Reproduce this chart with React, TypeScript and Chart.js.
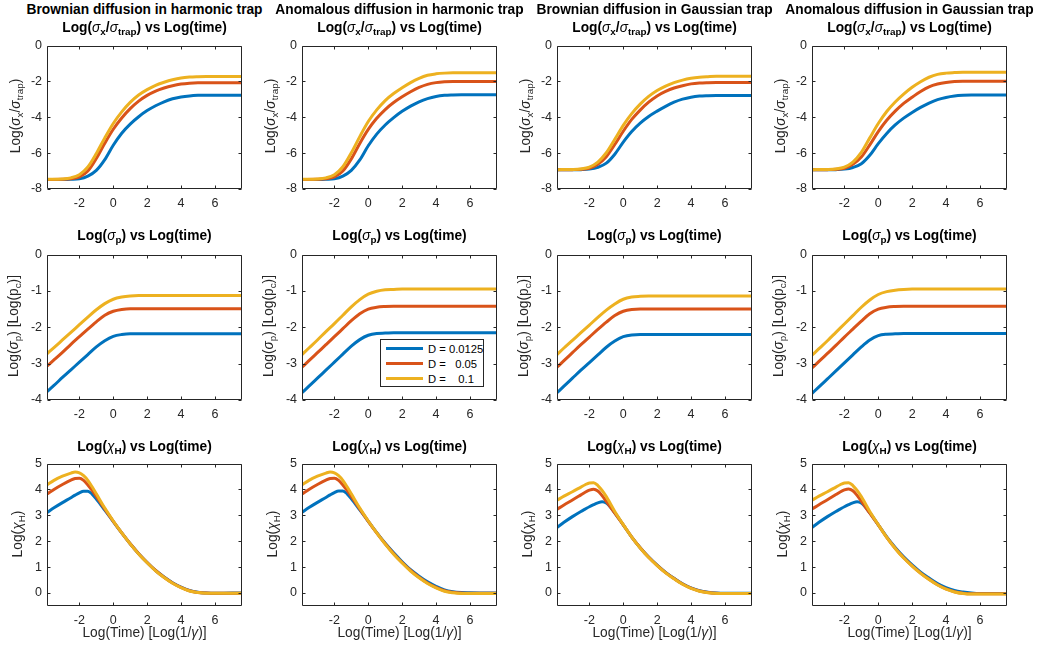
import React, { useEffect, useRef } from 'react';
import { Chart, registerables } from 'chart.js';

Chart.register(...registerables);

// ---------------- DATA ----------------
const SERIES_LABELS = ['D = 0.0125', 'D =   0.05', 'D =    0.1'];
const COLORS = ['#0072BD', '#D95319', '#EDB120'];
const COLUMN_TITLES = [
  'Brownian diffusion in harmonic trap',
  'Anomalous diffusion in harmonic trap',
  'Brownian diffusion in Gaussian trap',
  'Anomalous diffusion in Gaussian trap',
];
const X_MIN = -3.912;
const X_MAX = 7.601;

// Row 1: Log(sigma_x / sigma_trap)
const X1 = [-3.912, -3, -2.5, -2, -1.5, -1, -0.5, 0, 0.5, 1, 1.5, 2, 2.5, 3, 3.5, 4, 4.5, 5, 5.5, 6, 7, 7.601];
const SX_BH_B = [-7.47, -7.47, -7.46, -7.43, -7.28, -6.96, -6.36, -5.56, -4.89, -4.38, -3.97, -3.63, -3.36, -3.14, -2.97, -2.87, -2.81, -2.78, -2.77, -2.77, -2.77, -2.77];
const SX_BH_O = [-7.47, -7.46, -7.43, -7.33, -7.0, -6.3, -5.45, -4.67, -4.04, -3.52, -3.1, -2.78, -2.54, -2.37, -2.24, -2.15, -2.1, -2.08, -2.08, -2.08, -2.08, -2.08];
const SX_BH_Y = [-7.46, -7.44, -7.38, -7.2, -6.77, -6.02, -5.15, -4.35, -3.7, -3.17, -2.76, -2.46, -2.22, -2.05, -1.91, -1.81, -1.76, -1.74, -1.73, -1.73, -1.73, -1.73];
const SX_AH_B = [-7.47, -7.47, -7.46, -7.43, -7.28, -6.96, -6.38, -5.59, -4.94, -4.43, -4.02, -3.67, -3.38, -3.14, -2.96, -2.84, -2.78, -2.76, -2.75, -2.75, -2.75, -2.75];
const SX_AH_O = [-7.47, -7.46, -7.43, -7.33, -7.0, -6.32, -5.46, -4.68, -4.06, -3.57, -3.18, -2.86, -2.58, -2.34, -2.17, -2.07, -2.02, -2.0, -2.0, -2.0, -2.0, -2.0];
const SX_AH_Y = [-7.46, -7.44, -7.38, -7.2, -6.76, -5.98, -5.08, -4.24, -3.59, -3.07, -2.68, -2.36, -2.07, -1.83, -1.66, -1.58, -1.54, -1.52, -1.52, -1.52, -1.52, -1.52];
const SX_BG_B = [-6.93, -6.93, -6.92, -6.89, -6.79, -6.56, -6.06, -5.39, -4.8, -4.33, -3.96, -3.66, -3.39, -3.16, -2.99, -2.88, -2.82, -2.8, -2.79, -2.79, -2.79, -2.79];
const SX_BG_O = [-6.93, -6.92, -6.9, -6.84, -6.62, -6.2, -5.52, -4.78, -4.12, -3.6, -3.16, -2.81, -2.56, -2.37, -2.24, -2.14, -2.09, -2.07, -2.06, -2.06, -2.06, -2.06];
const SX_BG_Y = [-6.92, -6.91, -6.88, -6.78, -6.5, -5.98, -5.23, -4.45, -3.8, -3.27, -2.84, -2.51, -2.26, -2.07, -1.93, -1.83, -1.77, -1.74, -1.72, -1.72, -1.72, -1.72];
const SX_AG_B = [-6.93, -6.93, -6.92, -6.89, -6.8, -6.59, -6.12, -5.47, -4.9, -4.43, -4.05, -3.73, -3.45, -3.21, -3.02, -2.9, -2.82, -2.78, -2.76, -2.76, -2.76, -2.76];
const SX_AG_O = [-6.93, -6.92, -6.9, -6.84, -6.62, -6.22, -5.54, -4.8, -4.17, -3.66, -3.23, -2.88, -2.56, -2.3, -2.15, -2.06, -2.01, -1.99, -1.99, -1.99, -1.99, -1.99];
const SX_AG_Y = [-6.92, -6.91, -6.88, -6.78, -6.5, -5.96, -5.15, -4.35, -3.68, -3.15, -2.71, -2.33, -2.02, -1.77, -1.61, -1.54, -1.51, -1.49, -1.49, -1.49, -1.49, -1.49];

// Row 2: Log(sigma_p)
const X2 = [-3.912, -3.5, -3, -2.5, -2, -1.5, -1, -0.5, 0, 0.5, 1, 1.5, 2, 3, 4, 5, 6, 7, 7.601];
const SP_BH_B = [-3.77, -3.6, -3.38, -3.17, -2.96, -2.75, -2.54, -2.37, -2.25, -2.2, -2.18, -2.18, -2.18, -2.18, -2.18, -2.18, -2.18, -2.18, -2.18];
const SP_BH_O = [-3.07, -2.9, -2.69, -2.47, -2.26, -2.05, -1.85, -1.67, -1.56, -1.51, -1.49, -1.49, -1.49, -1.49, -1.49, -1.49, -1.49, -1.49, -1.49];
const SP_BH_Y = [-2.73, -2.56, -2.35, -2.14, -1.93, -1.72, -1.52, -1.35, -1.23, -1.17, -1.14, -1.13, -1.13, -1.13, -1.13, -1.13, -1.13, -1.13, -1.13];
const SP_AH_B = [-3.8, -3.62, -3.4, -3.18, -2.96, -2.74, -2.52, -2.34, -2.22, -2.17, -2.16, -2.15, -2.15, -2.15, -2.15, -2.15, -2.15, -2.15, -2.15];
const SP_AH_O = [-3.1, -2.92, -2.7, -2.48, -2.26, -2.04, -1.82, -1.63, -1.5, -1.45, -1.43, -1.42, -1.42, -1.42, -1.42, -1.42, -1.42, -1.42, -1.42];
const SP_AH_Y = [-2.75, -2.57, -2.35, -2.12, -1.9, -1.67, -1.44, -1.24, -1.09, -1.01, -0.97, -0.96, -0.95, -0.95, -0.95, -0.95, -0.95, -0.95, -0.95];
const SP_BG_B = [-3.8, -3.62, -3.4, -3.18, -2.97, -2.76, -2.55, -2.38, -2.26, -2.21, -2.2, -2.2, -2.2, -2.2, -2.2, -2.2, -2.2, -2.2, -2.2];
const SP_BG_O = [-3.1, -2.92, -2.7, -2.48, -2.27, -2.06, -1.86, -1.68, -1.56, -1.51, -1.5, -1.5, -1.5, -1.5, -1.5, -1.5, -1.5, -1.5, -1.5];
const SP_BG_Y = [-2.75, -2.57, -2.36, -2.15, -1.94, -1.73, -1.53, -1.36, -1.23, -1.17, -1.15, -1.14, -1.14, -1.14, -1.14, -1.14, -1.14, -1.14, -1.14];
const SP_AG_B = [-3.82, -3.64, -3.42, -3.2, -2.98, -2.76, -2.54, -2.35, -2.23, -2.19, -2.18, -2.17, -2.17, -2.17, -2.17, -2.17, -2.17, -2.17, -2.17];
const SP_AG_O = [-3.12, -2.94, -2.72, -2.5, -2.27, -2.05, -1.83, -1.63, -1.5, -1.45, -1.43, -1.42, -1.42, -1.42, -1.42, -1.42, -1.42, -1.42, -1.42];
const SP_AG_Y = [-2.77, -2.59, -2.37, -2.14, -1.91, -1.68, -1.45, -1.25, -1.1, -1.02, -0.98, -0.96, -0.95, -0.95, -0.95, -0.95, -0.95, -0.95, -0.95];

// Row 3: Log(chi_H)
const X3 = [-3.912, -3.5, -3, -2.5, -2.25, -2, -1.75, -1.5, -1.25, -1, -0.5, 0, 0.5, 1, 1.5, 2, 2.5, 3, 3.5, 4, 4.5, 5, 5.5, 6, 7, 7.601];
const CH_BH_B = [3.11, 3.29, 3.49, 3.68, 3.78, 3.87, 3.93, 3.93, 3.82, 3.63, 3.2, 2.76, 2.32, 1.9, 1.52, 1.18, 0.87, 0.62, 0.4, 0.23, 0.1, 0.03, 0.0, -0.01, 0.0, 0.0];
const CH_BH_O = [3.82, 4.0, 4.19, 4.36, 4.42, 4.43, 4.35, 4.17, 3.96, 3.73, 3.24, 2.77, 2.32, 1.9, 1.52, 1.18, 0.87, 0.61, 0.39, 0.22, 0.09, 0.02, 0.0, -0.01, -0.01, -0.01];
const CH_BH_Y = [4.18, 4.35, 4.51, 4.63, 4.67, 4.64, 4.53, 4.35, 4.1, 3.83, 3.28, 2.78, 2.32, 1.9, 1.51, 1.17, 0.86, 0.6, 0.38, 0.21, 0.08, 0.02, -0.01, -0.01, -0.01, -0.01];
const CH_AH_B = [3.12, 3.3, 3.5, 3.69, 3.79, 3.88, 3.94, 3.94, 3.83, 3.64, 3.21, 2.77, 2.33, 1.92, 1.55, 1.21, 0.9, 0.65, 0.43, 0.26, 0.12, 0.05, 0.02, 0.01, 0.0, 0.0];
const CH_AH_O = [3.82, 4.0, 4.19, 4.36, 4.42, 4.43, 4.35, 4.17, 3.96, 3.73, 3.24, 2.77, 2.32, 1.9, 1.52, 1.18, 0.87, 0.61, 0.39, 0.22, 0.09, 0.03, 0.0, -0.01, -0.01, -0.01];
const CH_AH_Y = [4.18, 4.35, 4.51, 4.63, 4.67, 4.64, 4.53, 4.35, 4.1, 3.83, 3.28, 2.78, 2.32, 1.89, 1.5, 1.16, 0.85, 0.59, 0.37, 0.2, 0.07, 0.01, -0.02, -0.02, -0.02, -0.02];
const CH_BG_B = [2.53, 2.73, 2.95, 3.15, 3.24, 3.33, 3.41, 3.48, 3.52, 3.47, 3.1, 2.63, 2.16, 1.75, 1.39, 1.08, 0.8, 0.57, 0.36, 0.2, 0.09, 0.03, 0.0, -0.01, -0.01, -0.01];
const CH_BG_O = [3.23, 3.4, 3.59, 3.79, 3.89, 3.97, 4.01, 3.94, 3.76, 3.54, 3.08, 2.63, 2.16, 1.75, 1.38, 1.07, 0.79, 0.56, 0.35, 0.19, 0.08, 0.02, -0.01, -0.02, -0.02, -0.02];
const CH_BG_Y = [3.58, 3.74, 3.91, 4.09, 4.18, 4.25, 4.26, 4.15, 3.96, 3.72, 3.15, 2.64, 2.16, 1.74, 1.37, 1.06, 0.78, 0.55, 0.34, 0.18, 0.07, 0.01, -0.02, -0.02, -0.02, -0.02];
const CH_AG_B = [2.53, 2.73, 2.95, 3.15, 3.24, 3.33, 3.41, 3.48, 3.52, 3.47, 3.1, 2.63, 2.17, 1.76, 1.4, 1.09, 0.81, 0.58, 0.37, 0.21, 0.1, 0.04, 0.0, -0.02, -0.02, -0.02];
const CH_AG_O = [3.24, 3.41, 3.6, 3.8, 3.9, 3.98, 4.02, 3.95, 3.77, 3.55, 3.08, 2.63, 2.15, 1.73, 1.36, 1.05, 0.77, 0.53, 0.32, 0.16, 0.05, -0.01, -0.03, -0.03, -0.03, -0.03];
const CH_AG_Y = [3.58, 3.74, 3.91, 4.09, 4.18, 4.25, 4.26, 4.15, 3.96, 3.72, 3.15, 2.64, 2.15, 1.72, 1.35, 1.04, 0.76, 0.52, 0.31, 0.15, 0.04, -0.02, -0.04, -0.04, -0.04, -0.04];

// ---------------- LAYOUT ----------------
const COL_LEFT = [47, 302, 557, 812];
const PLOT_W = 195;
const ROW_TOP = [43, 252, 461];
const ROW_H = [146, 148, 145];

const FONT = '"Liberation Sans", Arial, Helvetica, sans-serif';
const AXIS_COLOR = '#262626';

type PanelSpec = {
  xs: number[];
  ys: number[][];
  yMin: number;
  yMax: number;
  yStep: number;
  left: number;
  top: number;
  width: number;
  height: number;
};

const boxPlugin = {
  id: 'matlabBox',
  afterDatasetsDraw(chart: any) {
    const { ctx, chartArea: a, scales } = chart;
    ctx.save();
    ctx.strokeStyle = AXIS_COLOR;
    ctx.lineWidth = 1;
    const l = Math.round(a.left) + 0.5;
    const r = Math.round(a.right) - 0.5;
    const t = Math.round(a.top) + 0.5;
    const b = Math.round(a.bottom) - 0.5;
    ctx.beginPath();
    ctx.rect(l, t, r - l, b - t);
    const len = 3;
    scales.x.ticks.forEach((tk: any) => {
      const px = Math.round(scales.x.getPixelForValue(tk.value)) + 0.5;
      ctx.moveTo(px, b);
      ctx.lineTo(px, b - len);
      ctx.moveTo(px, t);
      ctx.lineTo(px, t + len);
    });
    scales.y.ticks.forEach((tk: any) => {
      const py = Math.round(scales.y.getPixelForValue(tk.value)) + 0.5;
      ctx.moveTo(l, py);
      ctx.lineTo(l + len, py);
      ctx.moveTo(r, py);
      ctx.lineTo(r - len, py);
    });
    ctx.stroke();
    ctx.restore();
  },
};

const PAD_L = 45;
const PAD_R = 10;
const PAD_T = 10;
const PAD_B = 32;

function Panel({ spec }: { spec: PanelSpec }) {
  const ref = useRef<HTMLCanvasElement>(null);
  useEffect(() => {
    const tickFont = { family: FONT, size: 12.5 };
    const chart = new Chart(ref.current as HTMLCanvasElement, {
      type: 'line',
      data: {
        datasets: spec.ys.map((ys, i) => ({
          label: SERIES_LABELS[i],
          data: spec.xs.map((x, j) => ({ x, y: ys[j] })),
          borderColor: COLORS[i],
          backgroundColor: COLORS[i],
          borderWidth: 3,
          pointRadius: 0,
          cubicInterpolationMode: 'monotone',
          fill: false,
          clip: 0,
          order: 3 - i,
        })),
      } as any,
      options: {
        animation: false,
        responsive: false,
        devicePixelRatio: 1,
        events: [],
        layout: { padding: { left: 5, right: PAD_R, top: PAD_T, bottom: 5 } },
        plugins: { legend: { display: false }, tooltip: { enabled: false }, title: { display: false } },
        scales: {
          x: {
            type: 'linear',
            min: X_MIN,
            max: X_MAX,
            afterFit: (s: any) => {
              s.height = PAD_B - 5;
            },
            grid: { display: false, drawTicks: false },
            border: { display: false },
            ticks: {
              stepSize: 2,
              includeBounds: false,
              autoSkip: false,
              maxRotation: 0,
              padding: 7,
              color: AXIS_COLOR,
              font: tickFont,
            },
          },
          y: {
            type: 'linear',
            min: spec.yMin,
            max: spec.yMax,
            afterFit: (s: any) => {
              s.width = 40;
            },
            grid: { display: false, drawTicks: false },
            border: { display: false },
            ticks: {
              stepSize: spec.yStep,
              includeBounds: false,
              autoSkip: false,
              padding: 5,
              color: AXIS_COLOR,
              font: tickFont,
            },
          },
        },
      } as any,
      plugins: [boxPlugin],
    });
    return () => chart.destroy();
  }, []);
  const cw = spec.width + PAD_L + PAD_R;
  const ch = spec.height + PAD_T + PAD_B;
  return (
    <canvas
      ref={ref}
      width={cw}
      height={ch}
      style={{ position: 'absolute', left: spec.left - PAD_L, top: spec.top - PAD_T, width: cw, height: ch }}
    />
  );
}

// ---------------- TEXT HELPERS ----------------
const Sub = ({ children }: { children: React.ReactNode }) => (
  <span style={{ fontSize: '0.72em', position: 'relative', top: '0.33em' }}>{children}</span>
);
const G = ({ children }: { children: React.ReactNode }) => (
  <span style={{ fontStyle: 'italic', fontWeight: 'normal' }}>{children}</span>
);

function HText({ cx, baseline, size, bold, color, children }: any) {
  return (
    <div
      style={{
        position: 'absolute',
        left: cx,
        top: baseline - 0.9215 * size,
        transform: 'translateX(-50%)',
        whiteSpace: 'pre',
        fontFamily: FONT,
        fontSize: size,
        lineHeight: 1.15,
        fontWeight: bold ? 'bold' : 'normal',
        color: color || '#000',
      }}
    >
      {children}
    </div>
  );
}

function VText({ baselineX, cy, size, color, children }: any) {
  const cx = baselineX - 0.3465 * size;
  return (
    <div
      style={{
        position: 'absolute',
        left: cx,
        top: cy,
        transform: 'translate(-50%, -50%) rotate(-90deg)',
        whiteSpace: 'pre',
        fontFamily: FONT,
        fontSize: size,
        lineHeight: 1.15,
        color: color || AXIS_COLOR,
      }}
    >
      {children}
    </div>
  );
}

const SX_DATA = [
  [SX_BH_B, SX_BH_O, SX_BH_Y],
  [SX_AH_B, SX_AH_O, SX_AH_Y],
  [SX_BG_B, SX_BG_O, SX_BG_Y],
  [SX_AG_B, SX_AG_O, SX_AG_Y],
];
const SP_DATA = [
  [SP_BH_B, SP_BH_O, SP_BH_Y],
  [SP_AH_B, SP_AH_O, SP_AH_Y],
  [SP_BG_B, SP_BG_O, SP_BG_Y],
  [SP_AG_B, SP_AG_O, SP_AG_Y],
];
const CH_DATA = [
  [CH_BH_B, CH_BH_O, CH_BH_Y],
  [CH_AH_B, CH_AH_O, CH_AH_Y],
  [CH_BG_B, CH_BG_O, CH_BG_Y],
  [CH_AG_B, CH_AG_O, CH_AG_Y],
];

export default function App() {
  const TITLE = 13.75;
  const LABEL = 13.75;
  const panels: PanelSpec[] = [];
  COL_LEFT.forEach((L, c) => {
    panels.push({ xs: X1, ys: SX_DATA[c], yMin: -8, yMax: 0, yStep: 2, left: L, top: ROW_TOP[0], width: PLOT_W, height: ROW_H[0] });
    panels.push({ xs: X2, ys: SP_DATA[c], yMin: -4, yMax: 0, yStep: 1, left: L, top: ROW_TOP[1], width: PLOT_W, height: ROW_H[1] });
    panels.push({ xs: X3, ys: CH_DATA[c], yMin: -0.5, yMax: 5, yStep: 1, left: L, top: ROW_TOP[2], width: PLOT_W, height: ROW_H[2] });
  });

  const legendLeft = 380;
  const legendTop = 339;
  const legendRows = [348.5, 363.5, 378.5];

  return (
    <div style={{ position: 'absolute', left: 0, top: 0, width: 1039, height: 652, background: '#fff', overflow: 'hidden' }}>
      {panels.map((p, i) => (
        <Panel key={i} spec={p} />
      ))}
      {COL_LEFT.map((L, c) => {
        const cx = L + PLOT_W / 2;
        return (
          <React.Fragment key={c}>
            <HText cx={cx} baseline={15} size={TITLE} bold>
              {COLUMN_TITLES[c]}
            </HText>
            <HText cx={cx} baseline={32.3} size={TITLE} bold>
              Log(<G>σ</G><Sub>x</Sub>/<G>σ</G><Sub>trap</Sub>) vs Log(time)
            </HText>
            <HText cx={cx} baseline={240.7} size={TITLE} bold>
              Log(<G>σ</G><Sub>p</Sub>) vs Log(time)
            </HText>
            <HText cx={cx} baseline={451.7} size={TITLE} bold>
              Log(<G>χ</G><Sub>H</Sub>) vs Log(time)
            </HText>
            <HText cx={cx} baseline={638} size={LABEL} color={AXIS_COLOR}>
              Log(Time) [Log(1/<G>γ</G>)]
            </HText>
            <VText baselineX={L - 26.3} cy={ROW_TOP[0] + ROW_H[0] / 2} size={LABEL}>
              Log(<G>σ</G><Sub>x</Sub>/<G>σ</G><Sub>trap</Sub>)
            </VText>
            <VText baselineX={L - 28} cy={ROW_TOP[1] + ROW_H[1] / 2} size={LABEL}>
              Log(<G>σ</G><Sub>p</Sub>) [Log(p<Sub>c</Sub>)]
            </VText>
            <VText baselineX={L - 24.3} cy={ROW_TOP[2] + ROW_H[2] / 2} size={LABEL}>
              Log(<G>χ</G><Sub>H</Sub>)
            </VText>
          </React.Fragment>
        );
      })}
      <div
        style={{
          position: 'absolute',
          left: legendLeft,
          top: legendTop,
          width: 104,
          height: 48,
          boxSizing: 'border-box',
          border: `1px solid ${AXIS_COLOR}`,
          background: '#fff',
        }}
      />
      {SERIES_LABELS.map((lab, i) => (
        <React.Fragment key={lab}>
          <div
            style={{
              position: 'absolute',
              left: 386,
              top: legendRows[i] - 1.5,
              width: 37,
              height: 3,
              background: COLORS[i],
            }}
          />
          <div
            style={{
              position: 'absolute',
              left: 428,
              top: legendRows[i] - 7,
              height: 14,
              lineHeight: '14px',
              fontFamily: FONT,
              fontSize: 11.25,
              color: '#000',
              whiteSpace: 'pre',
            }}
          >
            {lab}
          </div>
        </React.Fragment>
      ))}
    </div>
  );
}
